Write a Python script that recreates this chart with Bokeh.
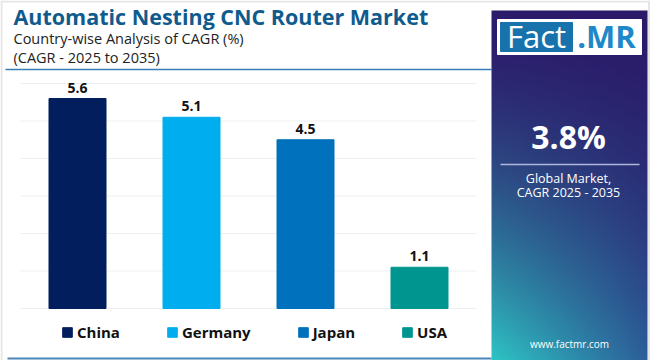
import numpy as np
from bokeh.plotting import figure
from bokeh.models import (Range1d, ColumnDataSource, LabelSet, Label, Legend, LegendItem)
from bokeh.core.properties import value
from bokeh.embed import file_html
from bokeh.resources import INLINE

# ---------------- data ----------------
countries = ["China", "Germany", "Japan", "USA"]
cagr = [5.6, 5.1, 4.5, 1.1]
bar_colors = ["#021e5c", "#00aeef", "#0071bc", "#00968f"]
yticks = [0, 1, 2, 3, 4, 5, 6]
title_text = "Automatic Nesting CNC Router Market"
subtitle1 = "Country-wise Analysis of CAGR (%)"
subtitle2 = "(CAGR - 2025 to 2035)"
global_cagr = "3.8%"
global_lbl1 = "Global Market,"
global_lbl2 = "CAGR 2025 - 2035"
website = "www.factmr.com"

FONT = "Open Sans"
W_PX, H_PX = 650, 360


def Y(sy):
    """page pixel row (from top) -> canvas y (from bottom)"""
    return H_PX - sy


def C(baseline, size):
    """vertical centre (page px) of a text whose baseline sits at `baseline`"""
    return Y(baseline - 0.37 * size)


p = figure(width=W_PX, height=H_PX, x_range=Range1d(0, W_PX), y_range=Range1d(0, H_PX),
           title=None, output_backend="svg", toolbar_location=None,
           x_axis_location=None, y_axis_location=None, min_border=0)
p.outline_line_color = None
p.xgrid.visible = False
p.ygrid.visible = False

# bar-chart scales: category band = 114 px, first band starts at x=20; value 0 at y=308, 37.5 px/unit
band, x_left = 114.0, 20.0
px_unit, y_zero = 37.5, 308.0
cat_start = -(x_left + band / 2) / band
p.extra_x_ranges = {"cat": Range1d(cat_start, cat_start + W_PX / band)}
val_start = -(H_PX - y_zero) / px_unit
p.extra_y_ranges = {"val": Range1d(val_start, val_start + H_PX / px_unit)}


def label(x, base, text, size, color, bold=False, align="left"):
    p.add_layout(Label(x=x, y=C(base, size), text=text, text_font=FONT,
                       text_font_style="bold" if bold else "normal",
                       text_font_size=f"{size}px", text_color=color,
                       text_align=align, text_baseline="middle"))


# card border (light grey)
p.segment(x0=[1, 0, 648.5], y0=[0, Y(1), 0], x1=[1, W_PX, 648.5], y1=[H_PX, Y(1), H_PX],
          line_color="#e6e6e6", line_width=2)

# ---------------- header ----------------
label(13, 24, title_text, 21.5, "#0f5b8d", bold=True)
label(13, 43, subtitle1, 14.5, "#222222")
label(13, 62, subtitle2, 14.5, "#222222")
p.segment(x0=[5], y0=[Y(69)], x1=[491], y1=[Y(69)], line_color="#3a7db4", line_width=1.5)
p.segment(x0=[7], y0=[Y(358)], x1=[491], y1=[Y(358)], line_color="#4a86b8", line_width=2)

# ---------------- bar chart ----------------
idx = list(range(len(countries)))
src = ColumnDataSource(dict(idx=idx, country=countries, cagr=cagr, color=bar_colors,
                            lbl=[f"{v:.1f}" for v in cagr]))
n = len(countries)
p.segment(x0=[-0.5] * len(yticks), x1=[n - 0.5] * len(yticks), y0=yticks, y1=yticks,
          line_color="#eceff3", line_width=1, x_range_name="cat", y_range_name="val")
r = p.vbar(x="idx", top="cagr", bottom=0, width=0.5, color="color", source=src,
           x_range_name="cat", y_range_name="val")
p.add_layout(LabelSet(x="idx", y="cagr", text="lbl", source=src, y_offset=11,
                      x_range_name="cat", y_range_name="val",
                      text_align="center", text_baseline="middle",
                      text_font=value(FONT), text_font_style="bold",
                      text_font_size="14px", text_color="#111111"))
legend = Legend(items=[LegendItem(label=c, renderers=[r], index=i) for i, c in enumerate(countries)],
                orientation="horizontal", location=(61, 18), padding=0, margin=0,
                spacing=46, glyph_width=12, glyph_height=12, label_standoff=4,
                label_text_font=FONT, label_text_font_style="bold",
                label_text_font_size="15px", label_text_color="#111111",
                border_line_color=None, background_fill_alpha=0)
p.add_layout(legend, "center")

# ---------------- right panel ----------------
GH, GW = 175, 78
def hx(c):
    return np.array([int(c[i:i + 2], 16) for i in (1, 3, 5)], dtype=float)
TL, TR = hx("#2c1b6b"), hx("#2a1a68")
BL, BR = hx("#2ec4c4"), hx("#2c5f99")
fy = np.linspace(1, 0, GH)[:, None, None] ** 1.6   # row 0 = bottom
fx = np.linspace(0, 1, GW)[None, :, None]
top = TL * (1 - fx) + TR * fx
bot = BL * (1 - fx) + BR * fx
rgb = top * (1 - fy) + bot * fy
img = np.empty((GH, GW), dtype=np.uint32)
v = img.view(dtype=np.uint8).reshape((GH, GW, 4))
v[:, :, :3] = rgb.astype(np.uint8)
v[:, :, 3] = 255
p.image_rgba(image=[img], x=491, y=0, dw=156, dh=350)

p.quad(left=[497], right=[641], top=[Y(19)], bottom=[Y(54)], color="white")
p.quad(left=[500], right=[572], top=[Y(22)], bottom=[Y(51)], color="#1873ad")
label(536, 47, "Fact", 31, "white", align="center")
label(606, 47, ".MR", 31, "#1f88c8", bold=True, align="center")
label(568, 148, global_cagr, 32, "white", bold=True, align="center")
p.segment(x0=[500], y0=[Y(164)], x1=[639], y1=[Y(164)], line_color="#aeb6dc", line_width=1.5)
label(568, 183, global_lbl1, 12.5, "white", align="center")
label(568, 197, global_lbl2, 12.5, "white", align="center")
label(569, 347, website, 10, "white", align="center")

open("out.html", "w").write(file_html(p, INLINE))
